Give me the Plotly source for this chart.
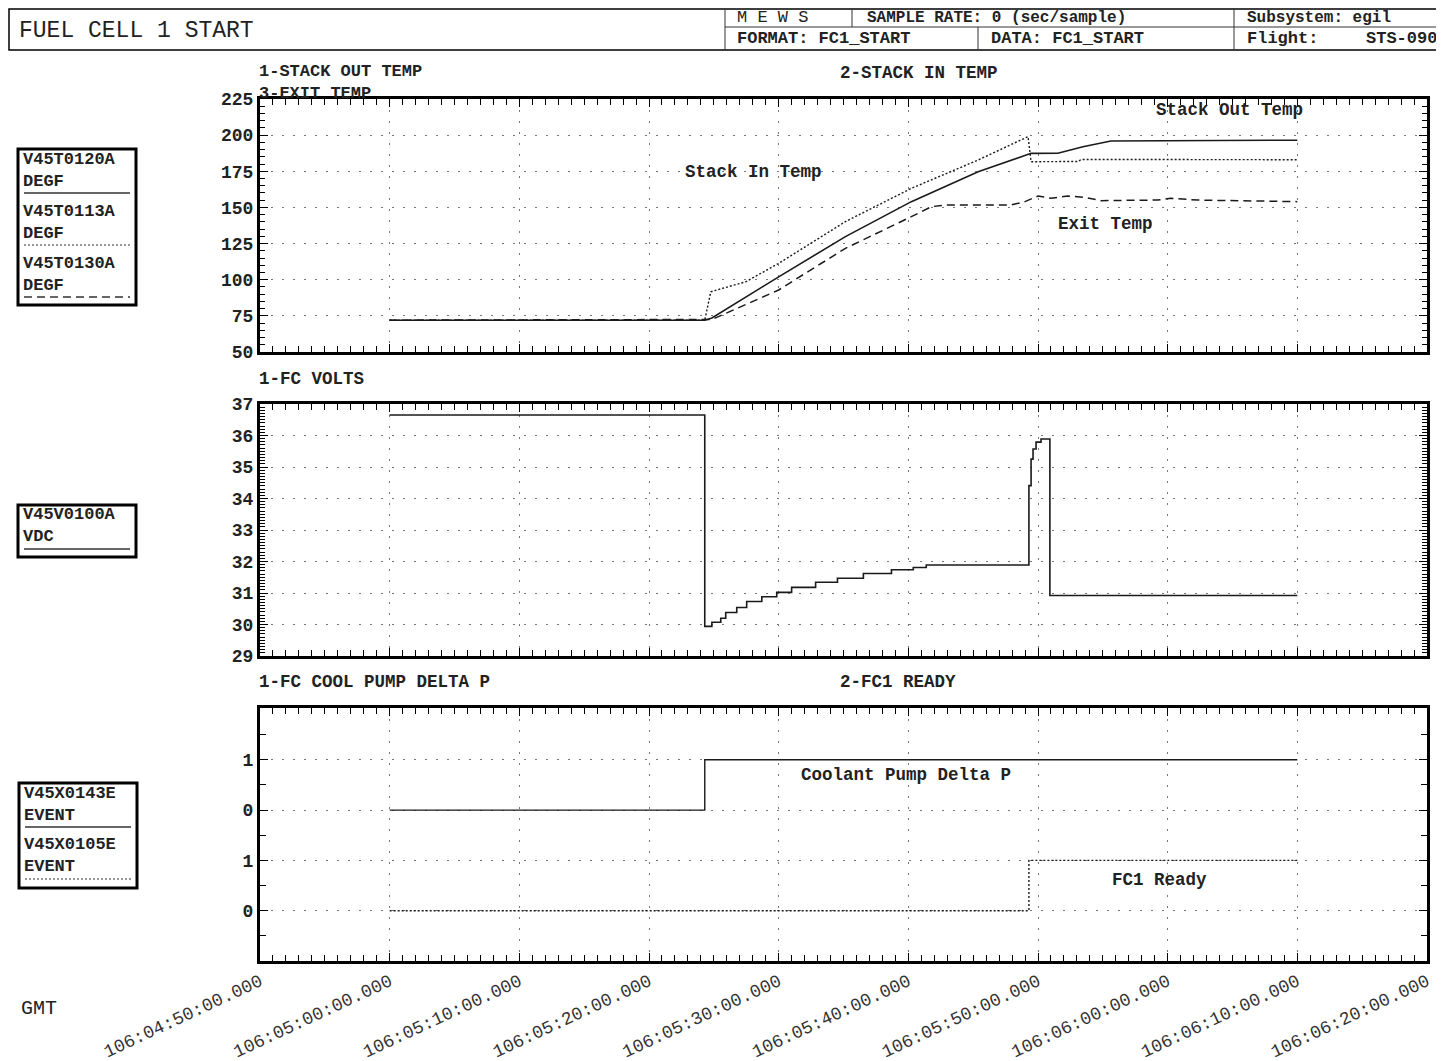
import plotly.graph_objects as go

# the page body has an 8px margin, so the figure is 8px smaller and every
# reference pixel position is shifted by OFF
OFF = 8
W, H = 1444 - OFF, 1061 - OFF
DAY = "1998-04-16 "   # day 106
MONO = "Liberation Mono"

# ---- panel 1: temperatures (DEGF)
out_t = ["05:00:00", "05:24:18", "05:24:51", "05:30:00", "05:35:09", "05:40:14",
         "05:45:23", "05:49:28", "05:51:32", "05:53:28", "05:55:37", "06:10:00"]
out_v = [72, 72, 73.5, 102, 129.8, 154, 174.7, 187.4, 187.5, 192, 196, 196.5]

in_t = ["05:00:00", "05:24:18", "05:24:46", "05:27:28", "05:30:00", "05:35:09",
        "05:40:14", "05:45:23", "05:49:14", "05:49:28", "05:53:05", "05:53:20", "06:10:00"]
in_v = [72, 72, 91.7, 98.6, 111.3, 140.2, 163.2, 182.8, 199, 181.6, 181.8, 183.2, 183]

exit_t = ["05:00:00", "05:24:51", "05:30:00", "05:35:09", "05:40:14", "05:41:46",
          "05:42:51", "05:47:55", "05:49:00", "05:50:00", "05:51:00", "05:52:18",
          "05:53:37", "05:54:51", "05:59:14", "06:00:14", "06:02:18", "06:10:00"]
exit_v = [72, 72.5, 92.9, 121.7, 143.6, 150.5, 151.7, 151.7, 154, 157.9, 156.3, 157.9,
          157, 154.7, 155.1, 156.3, 155.1, 154]

# ---- panel 2: fuel cell volts (step data)
volt_t = ["05:00:00", "05:24:18", "05:24:28", "05:24:51", "05:25:32", "05:25:55",
          "05:26:46", "05:27:32", "05:28:42", "05:29:51", "05:31:00", "05:32:51",
          "05:34:32", "05:36:32", "05:38:42", "05:40:23", "05:41:23", "05:49:18",
          "05:49:28", "05:49:37", "05:49:51", "05:50:14", "05:50:55", "06:10:00"]
volt_v = [36.65, 29.94, 29.94, 30.07, 30.2, 30.38, 30.54, 30.73, 30.88, 31.02, 31.18,
          31.34, 31.47, 31.62, 31.74, 31.81, 31.89, 34.41, 35.25, 35.57, 35.79, 35.89,
          30.92, 30.92]

# ---- panel 3: events
pump_t = ["05:00:00", "05:24:18", "06:10:00"]
pump_v = [0, 1, 1]
ready_t = ["05:00:00", "05:49:18", "06:10:00"]
ready_v = [0, 1, 1]

ticks3 = [0, 1, 2, 3]
ticks3_text = ["0", "1", "0", "1"]


def px(x):
    return (x - OFF) / W


def py(y):
    return 1 - (y - OFF) / H


def ts(lst):
    return [DAY + t for t in lst]


line_col = "#1a1a1a"
fig = go.Figure()

fig.add_trace(go.Scatter(x=ts(out_t), y=out_v, mode="lines", xaxis="x", yaxis="y",
                         line=dict(color=line_col, width=1.6)))
fig.add_trace(go.Scatter(x=ts(in_t), y=in_v, mode="lines", xaxis="x", yaxis="y",
                         line=dict(color=line_col, width=1.4, dash="2px,2px")))
fig.add_trace(go.Scatter(x=ts(exit_t), y=exit_v, mode="lines", xaxis="x", yaxis="y",
                         line=dict(color=line_col, width=1.5, dash="8px,5px")))

fig.add_trace(go.Scatter(x=ts(volt_t), y=volt_v, mode="lines", xaxis="x2", yaxis="y2",
                         line=dict(color=line_col, width=1.6, shape="hv")))

# upper pair of event ticks is offset by 2
fig.add_trace(go.Scatter(x=ts(pump_t), y=[v + 2 for v in pump_v], mode="lines",
                         xaxis="x3", yaxis="y3",
                         line=dict(color=line_col, width=1.4, shape="hv")))
fig.add_trace(go.Scatter(x=ts(ready_t), y=ready_v, mode="lines",
                         xaxis="x3", yaxis="y3",
                         line=dict(color=line_col, width=1.4, shape="hv", dash="2px,2px")))

xdom = [px(260), px(1427)]
grid = dict(showgrid=True, gridcolor="#777", gridwidth=1, griddash="2px,9px")
axline = dict(showline=True, linecolor="black", linewidth=3, mirror="ticks",
              ticks="inside", ticklen=8, tickcolor="black", tickwidth=1.3, zeroline=False,
              automargin=False)

xcommon = dict(type="date", range=[DAY + "04:50:00", DAY + "06:20:00"],
               tick0=DAY + "04:50:00", dtick=600000,
               minor=dict(ticks="inside", dtick=60000, ticklen=6, tickcolor="black",
                          showgrid=False),
               domain=xdom, **grid, **axline)

ytick_font = dict(family=MONO, size=18, color="#222", weight="bold")

fig.update_layout(
    width=W, height=H, margin=dict(l=0, r=0, t=0, b=0, autoexpand=False),
    paper_bgcolor="white", plot_bgcolor="white", showlegend=False,
    xaxis=dict(anchor="y", showticklabels=False, **xcommon),
    xaxis2=dict(anchor="y2", matches="x", showticklabels=False, **xcommon),
    xaxis3=dict(anchor="y3", matches="x", showticklabels=True, tickformat="%j:%H:%M:%S.%L",
                tickangle=-25, tickfont=dict(family=MONO, size=18, color="#333"),
                **xcommon),
    yaxis=dict(domain=[py(352), py(99)], range=[50, 225], tick0=50, dtick=25,
               minor=dict(ticks="inside", dtick=5, ticklen=5, tickcolor="black", showgrid=False),
               tickfont=ytick_font, anchor="x", **grid, **axline),
    yaxis2=dict(domain=[py(656), py(404)], range=[29, 37], tick0=29, dtick=1,
                minor=dict(ticks="inside", dtick=0.1, ticklen=5, tickcolor="black", showgrid=False),
                tickfont=ytick_font, anchor="x2", **grid, **axline),
    yaxis3=dict(domain=[py(961), py(708)], range=[-1, 4.03], tickmode="array",
                tickvals=ticks3, ticktext=ticks3_text,
                minor=dict(ticks="inside", tickvals=[-0.5, 0.5, 1.5, 2.5, 3.5], ticklen=6,
                           tickcolor="black", showgrid=False),
                tickfont=ytick_font, anchor="x3", **grid, **axline),
)


def text(x, y, s, size=17.5, bold=True, anchor="left", color="#222"):
    fig.add_annotation(x=px(x), y=py(y), xref="paper", yref="paper", text=s,
                       showarrow=False, xanchor=anchor, yanchor="middle", align="left",
                       borderpad=0,
                       font=dict(family=MONO, size=size, color=color,
                                 weight="bold" if bold else "normal"))


def hline(x0, x1, y, width=1, dash="solid", color="#333"):
    fig.add_shape(type="line", xref="paper", yref="paper", x0=px(x0), x1=px(x1),
                  y0=py(y), y1=py(y), line=dict(color=color, width=width, dash=dash))


def vline(x, y0, y1, width=1, color="#333"):
    fig.add_shape(type="line", xref="paper", yref="paper", x0=px(x), x1=px(x),
                  y0=py(y0), y1=py(y1), line=dict(color=color, width=width))


def box(x0, y0, x1, y1, width=3):
    fig.add_shape(type="rect", xref="paper", yref="paper", x0=px(x0), x1=px(x1),
                  y0=py(y1), y1=py(y0), line=dict(color="black", width=width))


# header block
box(9, 9, 1443, 50, width=1.5)
vline(725, 9, 50)
vline(852, 9, 27)
vline(1234, 9, 50)
vline(978, 27, 50)
hline(725, 1443, 27)
text(18, 31, "FUEL CELL 1 START", size=23, bold=False)
text(736, 18, "M E W S", size=17, bold=False)
text(866, 18, "SAMPLE RATE: 0 (sec/sample)", size=16)
text(1246, 18, "Subsystem: egil", size=16)
text(736, 39, "FORMAT: FC1_START", size=17)
text(990, 39, "DATA: FC1_START", size=17)
text(1246, 39, "Flight:", size=17)
text(1438, 39, "STS-090", size=17, anchor="right")

# panel titles (two-line labels are one text each)
text(258, 82, "1-STACK OUT TEMP<br>3-EXIT TEMP", size=17)
text(839, 73, "2-STACK IN TEMP")
text(258, 379, "1-FC VOLTS")
text(258, 682, "1-FC COOL PUMP DELTA P")
text(839, 682, "2-FC1 READY")

# trace labels inside plots
text(753, 172, "Stack In Temp", anchor="center")
text(1229, 110, "Stack Out Temp", anchor="center")
text(1105, 224, "Exit Temp", anchor="center")
text(906, 775, "Coolant Pump Delta P", anchor="center")
text(1159, 880, "FC1 Ready", anchor="center")

# signal boxes on the left
box(18, 149, 136, 305)
text(22, 170, "V45T0120A<br>DEGF", size=17)
hline(24, 130, 193, width=1.3)
text(22, 222, "V45T0113A<br>DEGF", size=17)
hline(24, 130, 245, width=1.2, dash="2px,2px")
text(22, 274, "V45T0130A<br>DEGF", size=17)
hline(24, 130, 297, width=1.3, dash="8px,5px")

box(18, 505, 136, 557)
text(22, 525, "V45V0100A<br>VDC", size=17)
hline(24, 130, 549, width=1.3)

box(19, 783, 137, 888)
text(23, 804, "V45X0143E<br>EVENT", size=17)
hline(25, 131, 827, width=1.3)
text(23, 855, "V45X0105E<br>EVENT", size=17)
hline(25, 131, 879, width=1.2, dash="2px,2px")

text(20, 1008, "GMT", size=20, bold=False)

fig.write_html("out.html")
